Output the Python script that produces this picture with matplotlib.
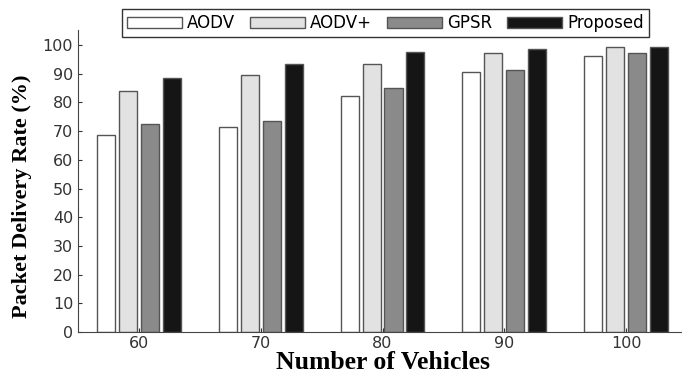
import numpy as np
from matplotlib import pyplot as plt
import matplotlib as mpl

mpl.rcParams.update({'font.family': 'DejaVu Sans'})

vehicles = ['60', '70', '80', '90', '100']
aodv = [68.6, 71.5, 82.2, 90.5, 96.3]
aodv_plus = [84.0, 89.7, 93.5, 97.3, 99.3]
gpsr = [72.6, 73.5, 85.1, 91.3, 97.1]
proposed = [88.5, 93.5, 97.6, 98.5, 99.3]

series = [('AODV', aodv, '#ffffff'),
          ('AODV+', aodv_plus, '#e2e2e2'),
          ('GPSR', gpsr, '#8a8a8a'),
          ('Proposed', proposed, '#151515')]

fig = plt.figure(figsize=(6.82, 3.76), dpi=100)
ax = fig.add_axes([0.1144, 0.117, 0.893, 0.803])

x = np.arange(len(vehicles))
slot = 0.18
width = 0.148
for k, (name, vals, color) in enumerate(series):
    ax.bar(x + (k - 1.5) * slot, vals, width, color=color, edgecolor='#555555',
           linewidth=1.0, label=name)

ax.set_xlim(-0.5, 4.5)
ax.set_ylim(0, 105.2)
ax.set_xticks(x)
ax.set_xticklabels(vehicles)
ax.set_yticks(np.arange(0, 101, 10))
ax.tick_params(direction='in', length=3, labelsize=11.5, colors='#333333', width=0.8)
ax.tick_params(axis='x', pad=3)
for s in ['top', 'right']:
    ax.spines[s].set_visible(False)
for s in ['left', 'bottom']:
    ax.spines[s].set_color('#444444')

ax.set_xlabel('Number of Vehicles', fontfamily='Liberation Serif', fontweight='bold',
              fontsize=18.5, labelpad=0)
ax.set_ylabel('Packet Delivery Rate (%)', fontfamily='Liberation Serif', fontweight='bold',
              fontsize=16)
ax.yaxis.set_label_coords(-0.075, 0.45)

fig.legend(loc='upper center', bbox_to_anchor=(0.565, 0.975), ncol=4, fontsize=12,
           fancybox=False, framealpha=1, edgecolor='#333333', handlelength=3.3,
           handleheight=0.65, columnspacing=0.9, handletextpad=0.3,
           borderpad=0.3, borderaxespad=0)

plt.savefig('out.png', dpi=100)
plt.close()
